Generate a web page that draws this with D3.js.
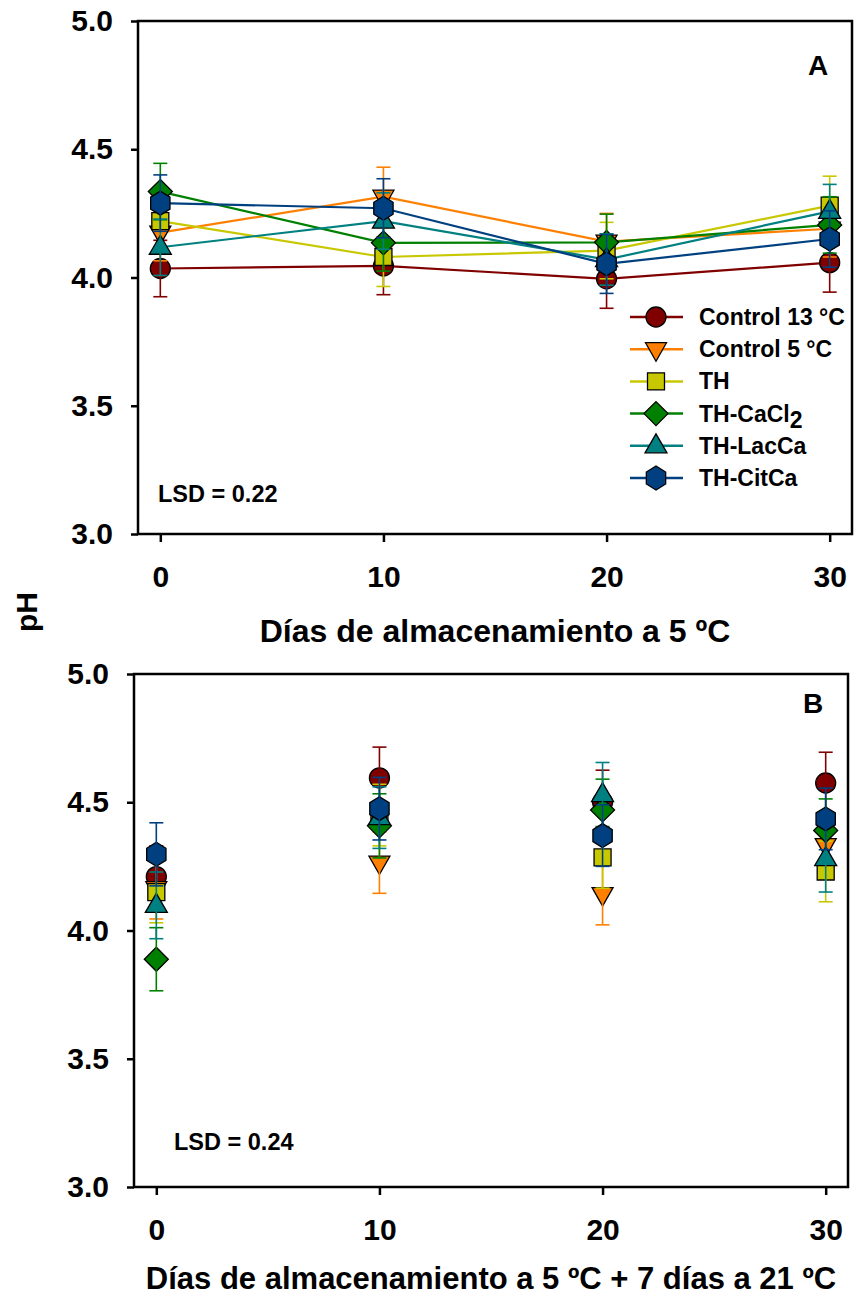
<!DOCTYPE html>
<html>
<head>
<meta charset="utf-8">
<script src="https://cdn.jsdelivr.net/npm/d3@7"></script>
<style>
  html, body { margin: 0; padding: 0; background: #fff; }
  svg { display: block; font-family: "Liberation Sans", Arial, sans-serif; font-weight: bold; }
</style>
</head>
<body>
<svg id="chart" width="855" height="1300"></svg>
<script>
// Storage days (x axis)
const days = [0, 10, 20, 30];
const yTicks = [3.0, 3.5, 4.0, 4.5, 5.0];

// Treatments, in legend order
const treatments = ["Control 13 °C", "Control 5 °C", "TH", "TH-CaCl2", "TH-LacCa", "TH-CitCa"];
const treatmentColors = ["#800000", "#ff8000", "#c8c800", "#008000", "#008080", "#004080"];
const treatmentShapes = ["circle", "triangleDown", "square", "diamond", "triangleUp", "hexagon"];

// Panel A: pH during storage at 5 °C (mean and error)
const phA_control13 = [4.035, 4.045, 3.995, 4.058];
const phA_control5  = [4.175, 4.315, 4.140, 4.190];
const phA_th        = [4.220, 4.080, 4.105, 4.280];
const phA_cacl2     = [4.335, 4.135, 4.137, 4.205];
const phA_lacca     = [4.118, 4.220, 4.070, 4.258];
const phA_citca     = [4.290, 4.270, 4.053, 4.150];
const errA_control13 = [0.110, 0.112, 0.115, 0.115];
const errA_control5  = [0.110, 0.115, 0.110, 0.110];
const errA_th        = [0.110, 0.115, 0.110, 0.115];
const errA_cacl2     = [0.110, 0.110, 0.110, 0.110];
const errA_lacca     = [0.110, 0.110, 0.100, 0.105];
const errA_citca     = [0.110, 0.115, 0.115, 0.110];

// Panel B: pH after storage at 5 °C + 7 days at 21 °C
const phB_control13 = [4.210, 4.595, 4.500, 4.575];
const phB_control5  = [4.165, 4.265, 4.142, 4.333];
const phB_th        = [4.150, 4.450, 4.285, 4.230];
const phB_cacl2     = [3.888, 4.408, 4.470, 4.390];
const phB_lacca     = [4.098, 4.440, 4.530, 4.280];
const phB_citca     = [4.297, 4.475, 4.370, 4.435];
const errB_control13 = [0.120, 0.120, 0.125, 0.120];
const errB_control5  = [0.120, 0.120, 0.120, 0.120];
const errB_th        = [0.120, 0.120, 0.120, 0.118];
const errB_cacl2     = [0.123, 0.125, 0.120, 0.123];
const errB_lacca     = [0.130, 0.120, 0.125, 0.130];
const errB_citca     = [0.123, 0.122, 0.120, 0.120];

const meansA = [phA_control13, phA_control5, phA_th, phA_cacl2, phA_lacca, phA_citca];
const errsA  = [errA_control13, errA_control5, errA_th, errA_cacl2, errA_lacca, errA_citca];
const meansB = [phB_control13, phB_control5, phB_th, phB_cacl2, phB_lacca, phB_citca];
const errsB  = [errB_control13, errB_control5, errB_th, errB_cacl2, errB_lacca, errB_citca];

function buildSeries(means, errs) {
  return treatments.map((name, i) => ({
    name, color: treatmentColors[i], shape: treatmentShapes[i],
    points: days.map((d, j) => ({ day: d, ph: means[i][j], err: errs[i][j] }))
  }));
}

// Marker outlines centred on (0,0)
function shapePath(shape) {
  switch (shape) {
    case "circle": return d3.symbol(d3.symbolCircle, Math.PI * 10 * 10)();
    case "square": return "M-8.5,-8.5H8.5V8.5H-8.5Z";
    case "diamond": return "M0,-12L12,0L0,12L-12,0Z";
    case "triangleUp": return "M0,-12L11,7L-11,7Z";
    case "triangleDown": return "M0,12L10.5,-6.5L-10.5,-6.5Z";
    case "hexagon": {
      const r = 12, pts = [];
      for (let k = 0; k < 6; k++) {
        const a = Math.PI / 2 + k * Math.PI / 3;
        pts.push([r * Math.cos(a) * 0.93, r * Math.sin(a)]);
      }
      return "M" + pts.map(p => p.join(",")).join("L") + "Z";
    }
  }
}

const svg = d3.select("#chart");

function drawPanel(opt) {
  const { left, top, width, height, series, connect, letter, letterX, letterY, lsd, lsdX, lsdY, title, titleSize, titleY } = opt;
  const g = svg.append("g").attr("transform", `translate(${left},${top})`);
  const x = d3.scaleLinear().domain([-1, 31]).range([0, width]);
  const y = d3.scaleLinear().domain([3, 5]).range([height, 0]);

  // Y axis
  const yAxis = g.append("g").call(d3.axisLeft(y).tickValues(yTicks).tickFormat(d3.format(".1f")).tickSize(7).tickPadding(18));
  yAxis.select(".domain").remove();
  yAxis.selectAll("line").attr("stroke", "#000").attr("stroke-width", 2.5);
  yAxis.selectAll("text").attr("font-size", 30).attr("font-family", "Liberation Sans, Arial, sans-serif")
    .attr("font-weight", "bold").attr("fill", "#000");

  // X axis
  const xAxis = g.append("g").attr("transform", `translate(0,${height})`)
    .call(d3.axisBottom(x).tickValues(days).tickSize(8).tickPadding(0));
  xAxis.select(".domain").remove();
  xAxis.selectAll("line").attr("stroke", "#000").attr("stroke-width", 2.5);
  xAxis.selectAll("text").attr("font-size", 30).attr("font-family", "Liberation Sans, Arial, sans-serif")
    .attr("font-weight", "bold").attr("fill", "#000").attr("dy", null).attr("y", 53);

  // Frame
  g.append("rect").attr("x", 0).attr("y", 0).attr("width", width).attr("height", height)
    .attr("fill", "none").attr("stroke", "#000").attr("stroke-width", 2.5);

  // Connecting lines
  if (connect) {
    const line = d3.line().x(d => x(d.day)).y(d => y(d.ph));
    series.forEach(s => {
      g.append("path").attr("d", line(s.points)).attr("fill", "none")
        .attr("stroke", s.color).attr("stroke-width", 2.2);
    });
  }

  // Markers and error bars
  series.forEach(s => {
    const sg = g.append("g");
    sg.selectAll("path.mk").data(s.points).join("path").attr("class", "mk")
      .attr("transform", d => `translate(${x(d.day)},${y(d.ph)})`)
      .attr("d", shapePath(s.shape)).attr("fill", s.color)
      .attr("stroke", "#000").attr("stroke-width", 1.3);
    const eb = sg.selectAll("g.eb").data(s.points).join("g").attr("class", "eb")
      .attr("stroke", s.color).attr("stroke-width", 1.6);
    eb.append("line").attr("x1", d => x(d.day)).attr("x2", d => x(d.day))
      .attr("y1", d => y(d.ph - d.err)).attr("y2", d => y(d.ph + d.err));
    [-1, 1].forEach(sign => {
      eb.append("line").attr("x1", d => x(d.day) - 7).attr("x2", d => x(d.day) + 7)
        .attr("y1", d => y(d.ph + sign * d.err)).attr("y2", d => y(d.ph + sign * d.err));
    });
  });

  // Panel letter and LSD note
  g.append("text").attr("x", letterX).attr("y", letterY).attr("text-anchor", "middle")
    .attr("font-size", 28).text(letter);
  g.append("text").attr("x", lsdX).attr("y", lsdY).attr("font-size", 23.5).text(lsd);

  // X axis title
  g.append("text").attr("x", width / 2).attr("y", height + titleY).attr("text-anchor", "middle")
    .attr("font-size", titleSize).text(title);

  return { g, x, y };
}

const A = drawPanel({
  left: 138, top: 21, width: 714, height: 513,
  series: buildSeries(meansA, errsA), connect: true,
  letter: "A", letterX: 680, letterY: 54,
  lsd: "LSD = 0.22", lsdX: 20, lsdY: 481,
  title: "Días de almacenamiento a 5 ºC", titleSize: 32, titleY: 108
});

drawPanel({
  left: 134, top: 674, width: 714, height: 513,
  series: buildSeries(meansB, errsB), connect: false,
  letter: "B", letterX: 679, letterY: 39,
  lsd: "LSD = 0.24", lsdX: 40, lsdY: 476,
  title: "Días de almacenamiento a 5 ºC + 7 días a 21 ºC", titleSize: 31, titleY: 102
});

// Legend inside panel A
const legend = A.g.append("g").attr("transform", "translate(492,296)");
treatments.forEach((name, i) => {
  const row = legend.append("g").attr("transform", `translate(0,${i * 32.2})`);
  row.append("line").attr("x1", 0).attr("x2", 53).attr("y1", 0).attr("y2", 0)
    .attr("stroke", treatmentColors[i]).attr("stroke-width", 2.5);
  row.append("path").attr("transform", "translate(26,0)").attr("d", shapePath(treatmentShapes[i]))
    .attr("fill", treatmentColors[i]).attr("stroke", "#000").attr("stroke-width", 1.3);
  const t = row.append("text").attr("x", 69).attr("y", 8).attr("font-size", 23);
  if (name === "TH-CaCl2") {
    t.append("tspan").text("TH-CaCl");
    t.append("tspan").attr("dy", 6).text("2");
  } else {
    t.text(name);
  }
});

// Shared y axis title
svg.append("text").attr("transform", "translate(37,612) rotate(-90)").attr("text-anchor", "middle")
  .attr("font-size", 30).text("pH");
</script>
</body>
</html>
